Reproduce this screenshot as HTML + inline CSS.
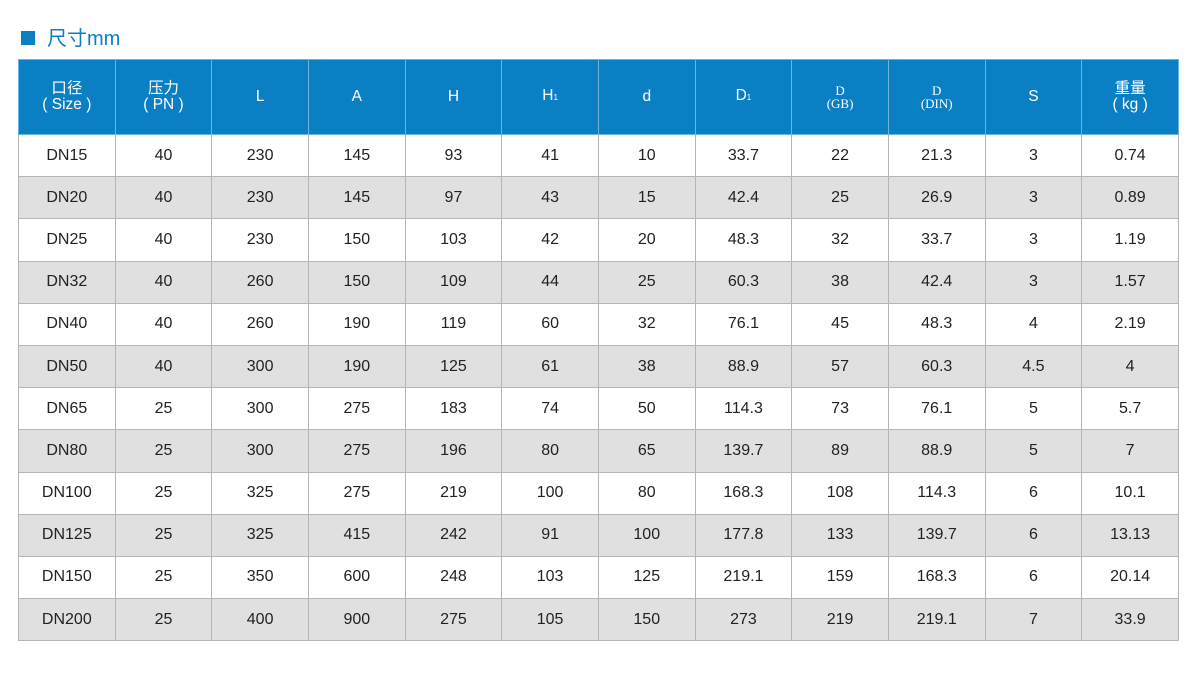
<!DOCTYPE html>
<html><head><meta charset="utf-8"><style>
body{margin:0;width:1200px;height:682px;background:#fff;position:relative;overflow:hidden;font-family:"Liberation Sans","Noto Sans CJK SC",sans-serif;}
.title{position:absolute;left:21px;top:28px;font-size:20px;color:#0a7fc4;line-height:22px;}
.title span{display:inline-block;width:14px;height:14px;background:#0a7fc4;margin-right:12px;vertical-align:0px;}
table{position:absolute;left:18px;top:59px;width:1161px;border-collapse:collapse;table-layout:fixed;}
td{border:1px solid #b5b5b5;text-align:center;font-size:16px;line-height:18px;color:#222;height:41.2px;padding:0;}
tr.h td{background:#0a7fc4;color:#fff;height:74px;border-color:#6cb4e0;font-size:15.5px;line-height:16px;}
tr.h td.s{font-family:"Liberation Serif",serif;font-size:13px;line-height:13px;}
tr:nth-child(odd):not(.h) td{background:#e0e0e0;}
sub{font-size:8px;vertical-align:0;}
</style></head><body>
<div class="title"><span></span>尺寸mm</div>
<table>
<tr class="h"><td>口径<br>( Size )</td><td>压力<br>( PN )</td><td>L</td><td>A</td><td>H</td><td>H<sub>1</sub></td><td>d</td><td>D<sub>1</sub></td><td class="s">D<br>(GB)</td><td class="s">D<br>(DIN)</td><td>S</td><td>重量<br>( kg )</td></tr>
<tr><td>DN15</td><td>40</td><td>230</td><td>145</td><td>93</td><td>41</td><td>10</td><td>33.7</td><td>22</td><td>21.3</td><td>3</td><td>0.74</td></tr>
<tr><td>DN20</td><td>40</td><td>230</td><td>145</td><td>97</td><td>43</td><td>15</td><td>42.4</td><td>25</td><td>26.9</td><td>3</td><td>0.89</td></tr>
<tr><td>DN25</td><td>40</td><td>230</td><td>150</td><td>103</td><td>42</td><td>20</td><td>48.3</td><td>32</td><td>33.7</td><td>3</td><td>1.19</td></tr>
<tr><td>DN32</td><td>40</td><td>260</td><td>150</td><td>109</td><td>44</td><td>25</td><td>60.3</td><td>38</td><td>42.4</td><td>3</td><td>1.57</td></tr>
<tr><td>DN40</td><td>40</td><td>260</td><td>190</td><td>119</td><td>60</td><td>32</td><td>76.1</td><td>45</td><td>48.3</td><td>4</td><td>2.19</td></tr>
<tr><td>DN50</td><td>40</td><td>300</td><td>190</td><td>125</td><td>61</td><td>38</td><td>88.9</td><td>57</td><td>60.3</td><td>4.5</td><td>4</td></tr>
<tr><td>DN65</td><td>25</td><td>300</td><td>275</td><td>183</td><td>74</td><td>50</td><td>114.3</td><td>73</td><td>76.1</td><td>5</td><td>5.7</td></tr>
<tr><td>DN80</td><td>25</td><td>300</td><td>275</td><td>196</td><td>80</td><td>65</td><td>139.7</td><td>89</td><td>88.9</td><td>5</td><td>7</td></tr>
<tr><td>DN100</td><td>25</td><td>325</td><td>275</td><td>219</td><td>100</td><td>80</td><td>168.3</td><td>108</td><td>114.3</td><td>6</td><td>10.1</td></tr>
<tr><td>DN125</td><td>25</td><td>325</td><td>415</td><td>242</td><td>91</td><td>100</td><td>177.8</td><td>133</td><td>139.7</td><td>6</td><td>13.13</td></tr>
<tr><td>DN150</td><td>25</td><td>350</td><td>600</td><td>248</td><td>103</td><td>125</td><td>219.1</td><td>159</td><td>168.3</td><td>6</td><td>20.14</td></tr>
<tr><td>DN200</td><td>25</td><td>400</td><td>900</td><td>275</td><td>105</td><td>150</td><td>273</td><td>219</td><td>219.1</td><td>7</td><td>33.9</td></tr>
</table>
</body></html>
